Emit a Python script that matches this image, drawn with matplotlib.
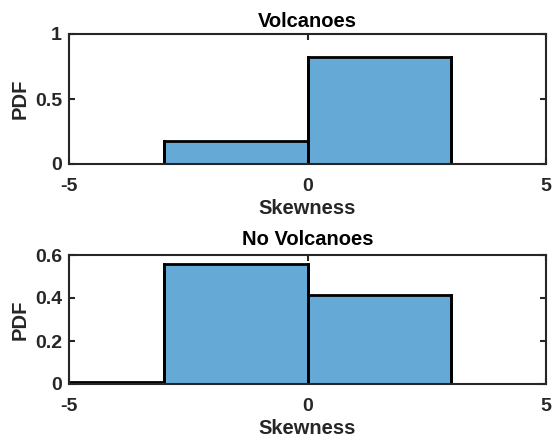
import matplotlib
matplotlib.use('Agg')
import matplotlib.pyplot as plt

plt.rcParams['font.family'] = ['Liberation Sans', 'DejaVu Sans']
plt.rcParams['font.weight'] = 'bold'

# histogram bins (edges) and pdf values
volc_edges = [-3, 0, 3]
volc_pdf = [0.18, 0.82]
novolc_edges = [-6, -3, 0, 3]
novolc_pdf = [0.008, 0.56, 0.415]

titles = ['Volcanoes', 'No Volcanoes']
yticks_list = [[0, 0.5, 1], [0, 0.2, 0.4, 0.6]]
ytick_labels = [['0', '0.5', '1'], ['0', '0.2', '0.4', '0.6']]
ylims = [(0, 1), (0, 0.6)]
xticks = [-5, 0, 5]

fill = '#65a9d7'
axcol = '#262626'
fs = 14
lfs = 14.5

fig = plt.figure(figsize=(5.52, 4.41), dpi=100)
positions = [[69/552, 1-164/441, 477/552, 130/441],
             [69/552, 1-384/441, 477/552, 129/441]]
title_pads = [5, 7]

data = [(volc_edges, volc_pdf), (novolc_edges, novolc_pdf)]
for i, (edges, vals) in enumerate(data):
    ax = fig.add_axes(positions[i])
    ax.stairs(vals, edges, fill=True, facecolor=fill, edgecolor='none')
    ax.stairs(vals, edges, fill=False, color='black', linewidth=2)
    for j in range(len(vals)):
        ax.plot([edges[j], edges[j]], [0, vals[j]], color='black', lw=2)
        ax.plot([edges[j+1], edges[j+1]], [0, vals[j]], color='black', lw=2)
    ax.set_xlim(-5, 5)
    ax.set_ylim(*ylims[i])
    ax.set_xticks(xticks)
    ax.set_xticklabels([str(x) for x in xticks])
    ax.set_yticks(yticks_list[i])
    ax.set_yticklabels(ytick_labels[i])
    ax.tick_params(direction='in', top=True, right=True, length=4, width=1.5,
                   color=axcol, labelcolor=axcol, labelsize=fs)
    ax.tick_params(axis='x', pad=10)
    ax.tick_params(axis='y', pad=5)
    for s in ax.spines.values():
        s.set_linewidth(1.5)
        s.set_color(axcol)
        s.set_zorder(5)
    ax.set_title(titles[i], fontsize=lfs, fontweight='bold', color='black',
                 pad=title_pads[i])
    ax.set_xlabel('Skewness', fontsize=lfs, fontweight='bold', color=axcol, labelpad=3)
    ax.set_ylabel('PDF', fontsize=lfs, fontweight='bold', color=axcol, labelpad=4)

fig.savefig('out.png', dpi=100)
